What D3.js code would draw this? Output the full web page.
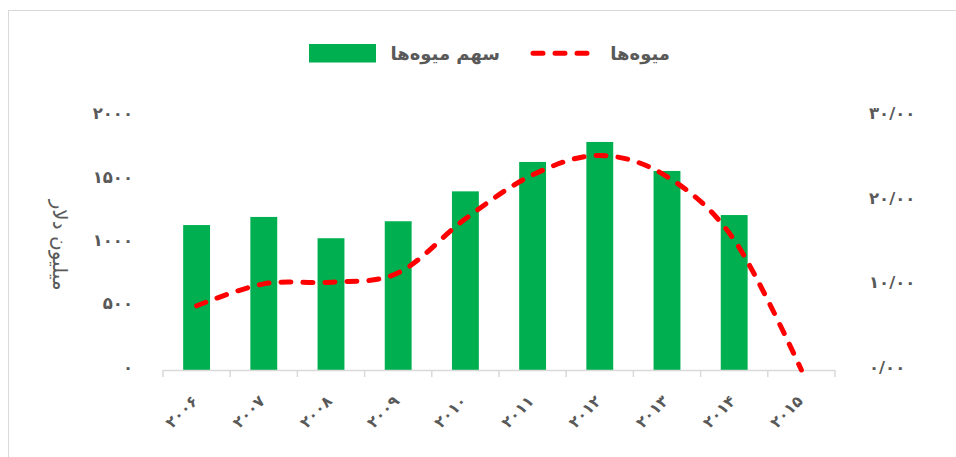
<!DOCTYPE html>
<html><head><meta charset="utf-8">
<script src="https://cdn.jsdelivr.net/npm/d3@7/dist/d3.min.js"></script>
<style>body{margin:0;background:#fff}svg{display:block}</style>
</head><body>
<svg id="chart" width="956" height="457"></svg>
<script>
// ---- data ----
const years = ["۲۰۰۶","۲۰۰۷","۲۰۰۸","۲۰۰۹","۲۰۱۰","۲۰۱۱","۲۰۱۲","۲۰۱۳","۲۰۱۴","۲۰۱۵"];
const shareValues = [1144, 1208, 1040, 1174, 1410, 1642, 1800, 1571, 1223, 0];   // سهم میوه‌ها (میلیون دلار)
const fruitValues = [7.6, 10.2, 10.4, 11.5, 17.9, 23.1, 25.4, 22.9, 15.4, 0];     // میوه‌ها
const leftTicks = [0, 500, 1000, 1500, 2000];
const leftTickLabels = ["۰","۵۰۰","۱۰۰۰","۱۵۰۰","۲۰۰۰"];
const rightTicks = [0, 10, 20, 30];
const rightTickLabels = ["۰/۰۰","۱۰/۰۰","۲۰/۰۰","۳۰/۰۰"];
const barName = "سهم میوه‌ها";
const lineName = "میوه‌ها";
const yTitle = "میلیون دلار";

// ---- layout ----
const FONT = "'DejaVu Sans', sans-serif";
const GRAY = "#595959";
const svg = d3.select("#chart");
const plot = {left: 163, right: 835, top: 116.6, bottom: 370};

svg.append("rect").attr("x", 8.5).attr("y", 10.5).attr("width", 1000).attr("height", 600)
  .attr("fill", "#fff").attr("stroke", "#d9d9d9").attr("stroke-width", 1);

const x = d3.scaleBand().domain(years).range([plot.left, plot.right]).paddingInner(0.6).paddingOuter(0.3);
const yL = d3.scaleLinear().domain([0, 2000]).range([plot.bottom, plot.top]);
const yR = d3.scaleLinear().domain([0, 30]).range([plot.bottom, plot.top]);
const xc = d => x(d) + x.bandwidth() / 2;

// bars
svg.append("g").selectAll("rect").data(years.map((y, i) => ({y, v: shareValues[i]})).filter(d => d.v > 0))
  .join("rect")
  .attr("x", d => x(d.y)).attr("width", x.bandwidth())
  .attr("y", d => yL(d.v)).attr("height", d => yL(0) - yL(d.v))
  .attr("fill", "#00b050");

// x axis: baseline and boundary ticks
const bounds = d3.range(years.length + 1).map(i => plot.left + i * ((plot.right - plot.left) / years.length));
const ax = svg.append("g");
ax.append("line").attr("x1", plot.left).attr("x2", plot.right)
  .attr("y1", plot.bottom + 0.5).attr("y2", plot.bottom + 0.5)
  .attr("stroke", "#d9d9d9").attr("stroke-width", 1.5);
ax.selectAll("line.tk").data(bounds).join("line").attr("class", "tk")
  .attr("x1", d => d).attr("x2", d => d).attr("y1", plot.bottom).attr("y2", plot.bottom + 7)
  .attr("stroke", "#d9d9d9").attr("stroke-width", 1.5);

// x labels rotated
svg.append("g").selectAll("text").data(years).join("text")
  .attr("transform", d => `translate(${xc(d) - 1},${plot.bottom + 29}) rotate(-45)`)
  .attr("text-anchor", "end").attr("dominant-baseline", "middle")
  .attr("font-family", FONT).attr("font-weight", "bold").attr("font-size", 15.5)
  .attr("fill", GRAY).text(d => d);

// left axis
const gl = svg.append("g").attr("transform", `translate(133,-3)`)
  .call(d3.axisLeft(yL).tickValues(leftTicks).tickFormat((d, i) => leftTickLabels[i]).tickSize(0).tickPadding(0));
gl.select(".domain").remove();
gl.selectAll("text").attr("font-family", FONT).attr("font-weight", "bold").attr("font-size", 16.5).attr("fill", GRAY);

// right axis
const gr = svg.append("g").attr("transform", `translate(869,-3)`)
  .call(d3.axisRight(yR).tickValues(rightTicks).tickFormat((d, i) => rightTickLabels[i]).tickSize(0).tickPadding(0));
gr.select(".domain").remove();
gr.selectAll("text").attr("font-family", FONT).attr("font-weight", "bold").attr("font-size", 16.5).attr("fill", GRAY);

// y title
svg.append("text").attr("transform", "translate(58,245) rotate(90)")
  .attr("text-anchor", "middle").attr("dominant-baseline", "middle")
  .attr("font-family", FONT).attr("font-size", 20).attr("fill", GRAY).text(yTitle);

// line
const line = d3.line().x((d, i) => xc(years[i])).y(d => yR(d)).curve(d3.curveCardinal.tension(0));
svg.append("path").attr("d", line(fruitValues))
  .attr("fill", "none").attr("stroke", "#ff0000").attr("stroke-width", 5)
  .attr("stroke-dasharray", "10,12").attr("stroke-linecap", "round");

// legend
const lg = svg.append("g");
lg.append("rect").attr("x", 309).attr("y", 44).attr("width", 67).attr("height", 18.5).attr("fill", "#00b050");
lg.append("text").attr("x", 500).attr("y", 60).attr("text-anchor", "end")
  .attr("font-family", FONT).attr("font-weight", "bold").attr("font-size", 18).attr("fill", GRAY).text(barName);
lg.append("line").attr("x1", 533).attr("x2", 593).attr("y1", 53.3).attr("y2", 53.3)
  .attr("stroke", "#ff0000").attr("stroke-width", 5).attr("stroke-dasharray", "10,12").attr("stroke-linecap", "round");
lg.append("text").attr("x", 670).attr("y", 60).attr("text-anchor", "end")
  .attr("font-family", FONT).attr("font-weight", "bold").attr("font-size", 18).attr("fill", GRAY).text(lineName);
</script>
</body></html>
